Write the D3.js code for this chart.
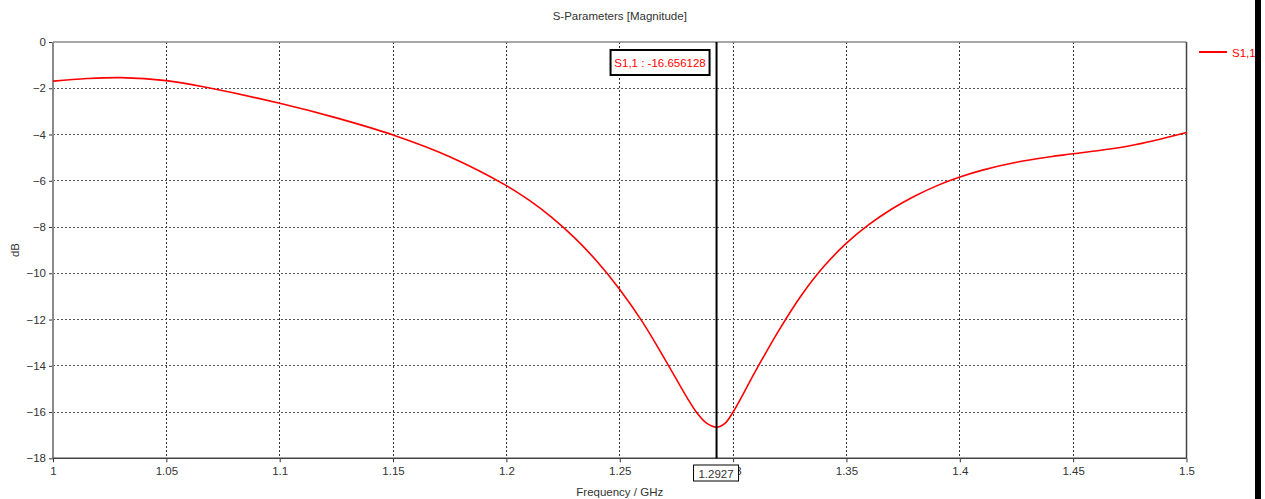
<!DOCTYPE html>
<html>
<head>
<meta charset="utf-8">
<script src="https://cdn.jsdelivr.net/npm/d3@7/dist/d3.min.js"></script>
<style>
  html, body { margin: 0; padding: 0; background: #fff; }
  svg { display: block; font-family: "Liberation Sans", Arial, sans-serif; }
</style>
</head>
<body>
<svg id="chart" width="1265" height="499"></svg>
<script>
// ---- data ----
const title = "S-Parameters [Magnitude]";
const xLabel = "Frequency / GHz";
const yLabel = "dB";
const seriesName = "S1,1";
const freq = [1.0, 1.015, 1.03, 1.05, 1.068, 1.1, 1.125, 1.15, 1.175, 1.2, 1.21, 1.22, 1.23, 1.24,
              1.25, 1.26, 1.27, 1.28, 1.284, 1.288, 1.2927, 1.2964, 1.3, 1.31, 1.32, 1.33, 1.34,
              1.35, 1.36, 1.37, 1.38, 1.39, 1.4, 1.41, 1.425, 1.44, 1.45, 1.475, 1.5];
const s11 = [-1.69, -1.58, -1.54, -1.67, -1.97, -2.65, -3.28, -4.02, -4.96, -6.21, -6.84, -7.58, -8.46, -9.49,
             -10.70, -12.10, -13.73, -15.43, -16.03, -16.46, -16.656, -16.49, -16.0, -14.21, -12.50, -10.97, -9.71,
             -8.70, -7.89, -7.22, -6.67, -6.21, -5.84, -5.54, -5.20, -4.96, -4.835, -4.485, -3.91];
const xTicks = [1, 1.05, 1.1, 1.15, 1.2, 1.25, 1.3, 1.35, 1.4, 1.45, 1.5];
const xTickLabels = ["1", "1.05", "1.1", "1.15", "1.2", "1.25", "1.3", "1.35", "1.4", "1.45", "1.5"];
const yTicks = [0, -2, -4, -6, -8, -10, -12, -14, -16, -18];
const markerFreq = 1.2927;
const markerText = "S1,1 : -16.656128";
const markerFreqText = "1.2927";

// ---- layout ----
const L = 53, R = 1186.5, T = 42, B = 458.3;
const svg = d3.select("#chart");
const x = d3.scaleLinear().domain([1, 1.5]).range([L, R]);
const y = d3.scaleLinear().domain([-18, 0]).range([B, T]);

// grid
const grid = svg.append("g");
grid.selectAll(".vg").data(xTicks.slice(1, -1)).enter().append("line")
  .attr("x1", d => x(d)).attr("x2", d => x(d)).attr("y1", T).attr("y2", B)
  .attr("stroke", "#333").attr("stroke-width", 1).attr("stroke-dasharray", "2,2")
  .attr("shape-rendering", "crispEdges");
grid.selectAll(".hg").data(yTicks.slice(1, -1)).enter().append("line")
  .attr("x1", L).attr("x2", R).attr("y1", d => y(d)).attr("y2", d => y(d))
  .attr("stroke", "#555").attr("stroke-width", 1).attr("stroke-dasharray", "2,2")
  .attr("shape-rendering", "crispEdges");

// axes
const xAxis = d3.axisBottom(x).tickValues(xTicks).tickFormat((d, i) => xTickLabels[i]).tickSize(4).tickPadding(5);
const gx = svg.append("g").attr("transform", `translate(0,${B})`).call(xAxis);
gx.select(".domain").remove();
gx.selectAll(".tick line").attr("stroke", "#333");
gx.selectAll(".tick text").attr("fill", "#333").style("font-size", "11.5px")
  .style("font-family", "Liberation Sans, Arial, sans-serif");

const yAxis = d3.axisLeft(y).tickValues(yTicks).tickFormat(d3.format("d")).tickSize(4).tickPadding(3);
const gy = svg.append("g").attr("transform", `translate(${L},0)`).call(yAxis);
gy.select(".domain").remove();
gy.selectAll(".tick line").attr("stroke", "#333");
gy.selectAll(".tick text").attr("fill", "#333").style("font-size", "11.5px")
  .style("font-family", "Liberation Sans, Arial, sans-serif");

// frame
svg.append("line").attr("x1", L).attr("x2", R).attr("y1", T).attr("y2", T)
  .attr("stroke", "#8a8a8a").attr("stroke-width", 1.5);
svg.append("line").attr("x1", L).attr("x2", L).attr("y1", T).attr("y2", B)
  .attr("stroke", "#8a8a8a").attr("stroke-width", 2);
svg.append("line").attr("x1", L).attr("x2", R).attr("y1", B).attr("y2", B)
  .attr("stroke", "#444").attr("stroke-width", 1.5);
svg.append("line").attr("x1", R).attr("x2", R).attr("y1", T).attr("y2", B)
  .attr("stroke", "#444").attr("stroke-width", 1.5);

// curve
const line = d3.line().x((d, i) => x(freq[i])).y(d => y(d)).curve(d3.curveCatmullRom.alpha(0.5));
svg.append("path").datum(s11).attr("d", line)
  .attr("fill", "none").attr("stroke", "#ff0000").attr("stroke-width", 1.6);

// marker line
const mx = x(markerFreq);
svg.append("line").attr("x1", mx).attr("x2", mx).attr("y1", T).attr("y2", B)
  .attr("stroke", "#000").attr("stroke-width", 2);

// marker value box
const mb = svg.append("g");
mb.append("rect").attr("x", mx - 106).attr("y", 50).attr("width", 99).attr("height", 25)
  .attr("fill", "#fff").attr("stroke", "#000").attr("stroke-width", 2);
mb.append("text").attr("x", mx - 56.5).attr("y", 66.5).attr("text-anchor", "middle")
  .attr("fill", "#ff0000").style("font-size", "11.5px").text(markerText);

// marker freq box on x axis
const fb = svg.append("g");
fb.append("rect").attr("x", mx - 23).attr("y", 465).attr("width", 45).attr("height", 16)
  .attr("fill", "#fff").attr("stroke", "#000").attr("stroke-width", 1);
fb.append("text").attr("x", mx - 0.5).attr("y", 477.5).attr("text-anchor", "middle")
  .attr("fill", "#333").style("font-size", "11.5px").text(markerFreqText);

// title & axis labels
svg.append("text").attr("x", (L + R) / 2).attr("y", 20).attr("text-anchor", "middle")
  .attr("fill", "#333").style("font-size", "11.5px").text(title);
svg.append("text").attr("x", (L + R) / 2).attr("y", 496).attr("text-anchor", "middle")
  .attr("fill", "#333").style("font-size", "11.5px").text(xLabel);
svg.append("text").attr("transform", `translate(19,250) rotate(-90)`).attr("text-anchor", "middle")
  .attr("fill", "#333").style("font-size", "11.5px").text(yLabel);

// legend
svg.append("line").attr("x1", 1199).attr("x2", 1227).attr("y1", 52).attr("y2", 52)
  .attr("stroke", "#ff0000").attr("stroke-width", 2);
svg.append("text").attr("x", 1232).attr("y", 56.5).attr("fill", "#ff0000")
  .style("font-size", "11.5px").text(seriesName);

// right black edge bar
svg.append("rect").attr("x", 1255).attr("y", 0).attr("width", 6).attr("height", 499).attr("fill", "#000");
</script>
</body>
</html>
